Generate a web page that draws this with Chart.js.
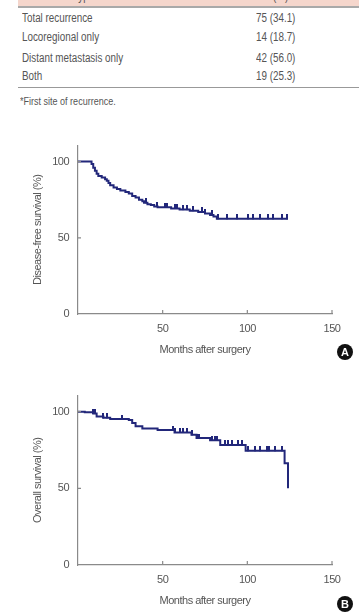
<!DOCTYPE html>
<html>
<head>
<meta charset="utf-8">
<script src="https://cdn.jsdelivr.net/npm/chart.js@4.4.0/dist/chart.umd.min.js"></script>
<style>
    body { margin: 0; width: 359px; height: 615px; overflow: hidden; background: #fff;
           font-family: "Liberation Sans", Arial, sans-serif; color: #555; }
    .abs { position: absolute; white-space: nowrap; }
    .txt { font-size: 12px; line-height: 14px; transform: scaleX(0.82); transform-origin: 0 0; }
    .badge { position: absolute; width: 16px; height: 16px; border-radius: 50%; background: #111;
             color: #fff; font: bold 11px "Liberation Sans", Arial, sans-serif; text-align: center; line-height: 16px; }
    canvas { position: absolute; left: 0; }
</style>
</head>
<body>
<div class="abs" style="left:18px;top:0;width:341px;height:6px;background:#f5d6cc;"></div>
<div class="abs" style="left:18px;top:6px;width:341px;height:1.5px;background:#a9a9a9;"></div>
<div id="table"></div>
<div class="abs" style="left:18px;top:87px;width:341px;height:1px;background:#999;"></div>
<div class="abs txt" style="left:20px;top:94px;font-size:11px;">*First site of recurrence.</div>

<canvas id="chartA" width="359" height="236" style="top:130px;"></canvas>
<canvas id="chartB" width="359" height="237" style="top:380px;"></canvas>
<div class="badge" style="left:337px;top:344px;">A</div>
<div class="badge" style="left:337px;top:596px;">B</div>

<script>
// table
var tableHeader = ["Recurrence type", "No. (%)"];
var recurrenceTypes = ["Total recurrence", "Locoregional only", "Distant metastasis only", "Both"];
var recurrenceCounts = ["75 (34.1)", "14 (18.7)", "42 (56.0)", "19 (25.3)"];

// Kaplan-Meier curves: [months, survival %]
var dfsCurve = [
    [0, 100], [8, 98.5], [9, 96], [10, 94], [11, 92], [12, 90.5], [14, 89.5], [16, 88.5],
    [17, 87.5], [18, 86], [19, 84.5], [21, 83], [23, 82], [25, 81], [28, 80], [30, 79],
    [32, 77.5], [34, 76.5], [36, 75], [38, 74], [39, 73], [41, 72], [43, 71.5], [45, 70.5],
    [47, 70], [55, 69.3], [60, 68.5], [66, 67.8], [71, 67], [75, 66], [78, 65], [80, 64],
    [82, 62.5], [124, 62.5]
];
var dfsCensored = [40, 46.4, 51.4, 52.3, 57.3, 58.3, 62.2, 64.2, 67.7, 73, 75, 78.9, 82.8,
    87.8, 93.7, 100.5, 103.5, 107.4, 112.3, 115.3, 120.2, 123.2];

var osCurve = [
    [0, 100], [4, 99.6], [9, 98.8], [11, 96.8], [15, 96], [19, 95.2], [30, 94.6], [32, 92.7],
    [34, 90.5], [38, 89], [47, 88], [57, 86.5], [67, 84.9], [70, 82.8], [78, 81.4], [84, 78.3],
    [99, 74.5], [122, 66.3], [124, 50]
];
var osCensored = [9.1, 10, 15, 16.9, 25.8, 56.3, 57.3, 60.2, 62.2, 64.2, 67.1, 70.1, 71.6,
    78.9, 80.9, 81.9, 86.8, 88.7, 90.7, 94.6, 96.6, 100.5, 104.5, 107.4, 111.4, 112.9, 116.3, 120.2];

var xTicks = [50, 100, 150];
var yTicks = [0, 50, 100];
var X_MAX = 150;
var Y_MAX = 110.5;

var LINE_COLOR = "#22277a";
var AXIS_COLOR = "#8a8a8a";
var FONT_FAMILY = '"Liberation Sans", Arial, sans-serif';

var rowTops = [11, 30, 51, 69];
var html = '<div class="abs txt" style="left:22px;top:-11px;">' + tableHeader[0] + '</div>' +
           '<div class="abs txt" style="left:255px;top:-11px;">' + tableHeader[1] + '</div>';
for (var i = 0; i < recurrenceTypes.length; i++) {
    html += '<div class="abs txt" style="left:22px;top:' + rowTops[i] + 'px;">' + recurrenceTypes[i] + '</div>';
    html += '<div class="abs txt" style="left:256px;top:' + rowTops[i] + 'px;">' + recurrenceCounts[i] + '</div>';
}
document.getElementById("table").innerHTML = html;

function survivalAt(curve, t) {
    var s = curve[0][1];
    for (var i = 0; i < curve.length; i++) {
        if (curve[i][0] <= t) s = curve[i][1];
    }
    return s;
}

// censor mark: short tick standing on the curve
function censorMark() {
    var c = document.createElement("canvas");
    c.width = 2;
    c.height = 9;
    var g = c.getContext("2d");
    g.fillStyle = LINE_COLOR;
    g.fillRect(0, 0, 2, 5);
    return c;
}

// tighter letters, the original uses a condensed face
var narrowText = {
    id: "narrowText",
    beforeUpdate: function (chart) { chart.ctx.letterSpacing = "-0.5px"; },
    beforeDraw: function (chart) { chart.ctx.letterSpacing = "-0.5px"; }
};

var innerTicks = {
    id: "innerTicks",
    afterDraw: function (chart) {
        var ctx = chart.ctx, sx = chart.scales.x, sy = chart.scales.y, area = chart.chartArea;
        ctx.save();
        ctx.strokeStyle = AXIS_COLOR;
        ctx.lineWidth = 1.2;
        ctx.beginPath();
        sx.ticks.forEach(function (t) {
            var px = sx.getPixelForValue(t.value);
            ctx.moveTo(px, area.bottom);
            ctx.lineTo(px, area.bottom - 4);
        });
        sy.ticks.forEach(function (t) {
            if (t.value === 0) return;
            var py = sy.getPixelForValue(t.value);
            ctx.moveTo(area.left, py);
            ctx.lineTo(area.left + 3, py);
        });
        ctx.stroke();
        ctx.restore();
    }
};

function makeChart(id, curve, censored, yTitle) {
    var linePoints = curve.map(function (p) { return { x: p[0], y: p[1] }; });
    var censorPoints = censored.map(function (t) { return { x: t, y: survivalAt(curve, t) }; });

    return new Chart(id, {
        type: "line",
        data: {
            datasets: [{
                data: linePoints,
                stepped: true,
                borderColor: LINE_COLOR,
                borderWidth: 2,
                pointRadius: 0,
                fill: false
            }, {
                data: censorPoints,
                showLine: false,
                pointStyle: censorMark(),
                pointRadius: 3
            }]
        },
        options: {
            responsive: false,
            animation: false,
            devicePixelRatio: 1,
            layout: { padding: { top: 7, right: 27, left: 0, bottom: 0 } },
            plugins: { legend: { display: false }, tooltip: { enabled: false } },
            scales: {
                x: {
                    type: "linear",
                    min: 0,
                    max: X_MAX,
                    afterFit: function (scale) { scale.height = 52; },
                    afterBuildTicks: function (scale) {
                        scale.ticks = xTicks.map(function (v) { return { value: v }; });
                    },
                    grid: { display: false, drawTicks: false },
                    border: { display: true, color: AXIS_COLOR, width: 1.2 },
                    ticks: { color: "#555", padding: 8, maxRotation: 0,
                             font: { family: FONT_FAMILY, size: 11 } },
                    title: { display: true, text: "Months after surgery", color: "#555",
                             padding: { top: 0, bottom: 9 },
                             font: { family: FONT_FAMILY, size: 11 } }
                },
                y: {
                    min: 0,
                    max: Y_MAX,
                    afterFit: function (scale) { scale.width = 78; },
                    afterBuildTicks: function (scale) {
                        scale.ticks = yTicks.map(function (v) { return { value: v }; });
                    },
                    grid: { display: false, drawTicks: false },
                    border: { display: true, color: AXIS_COLOR, width: 1.2 },
                    ticks: { color: "#555", padding: 9,
                             font: { family: FONT_FAMILY, size: 11 } },
                    title: { display: true, text: yTitle, color: "#555",
                             padding: { top: 31, bottom: 0 },
                             font: { family: FONT_FAMILY, size: 11 } }
                }
            }
        },
        plugins: [narrowText, innerTicks]
    });
}

makeChart("chartA", dfsCurve, dfsCensored, "Disease-free survival (%)");
makeChart("chartB", osCurve, osCensored, "Overall survival (%)");
</script>
</body>
</html>
